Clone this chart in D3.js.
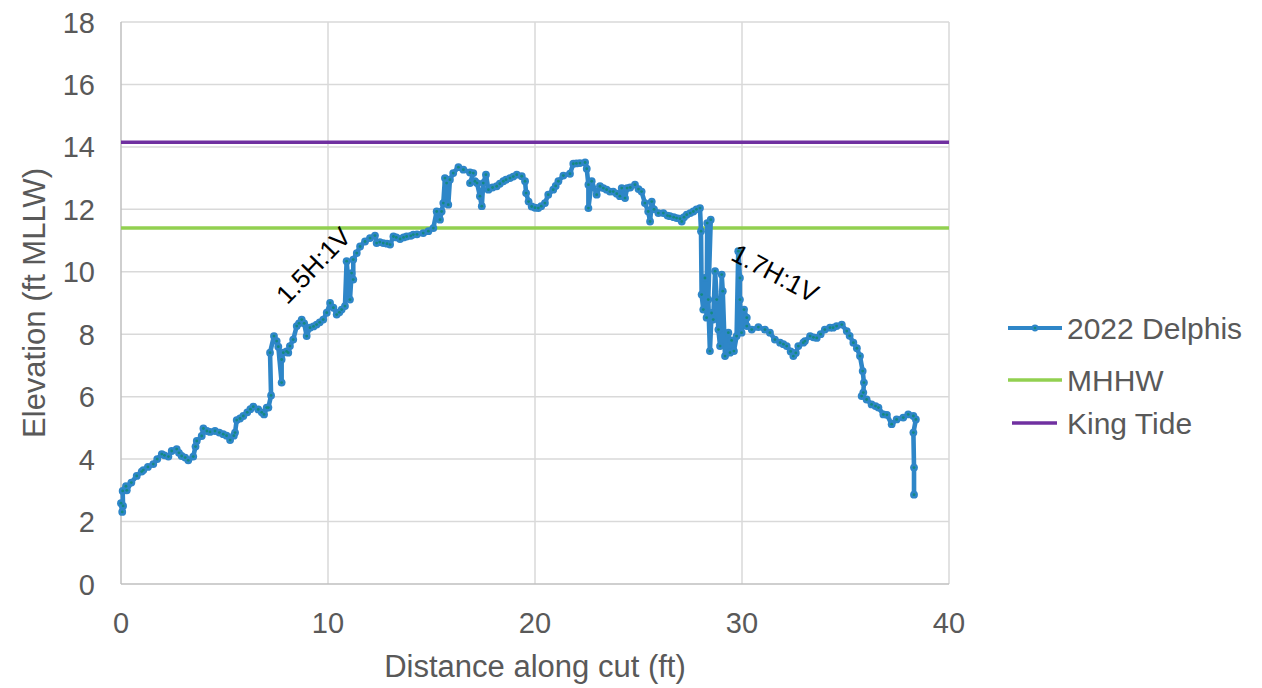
<!DOCTYPE html>
<html><head><meta charset="utf-8">
<script src="https://cdn.jsdelivr.net/npm/d3@7"></script>
<style>body{margin:0;background:#fff;font-family:Arial,"Liberation Sans",sans-serif}</style>
</head><body>
<svg id="c" width="1262" height="688"></svg>
<script>
const distance = [0.0,0.06,0.1,0.08,0.24,0.28,0.5,0.76,1.0,1.08,1.3,1.56,1.75,1.97,2.1,2.29,2.45,2.69,2.8,2.93,3.1,3.25,3.49,3.6,3.66,3.9,3.98,4.15,4.3,4.54,4.75,4.94,5.1,5.27,5.45,5.51,5.59,5.75,5.91,6.1,6.25,6.39,6.63,6.8,6.91,7.04,7.12,7.25,7.2,7.39,7.52,7.6,7.76,7.76,7.84,8.0,8.08,8.16,8.32,8.49,8.6,8.73,8.85,8.97,9.13,9.3,9.45,9.6,9.77,9.94,10.1,10.26,10.42,10.55,10.66,10.82,10.9,11.06,11.14,11.22,11.22,11.39,11.55,11.79,12.03,12.27,12.35,12.5,12.67,12.85,13.0,13.16,13.3,13.48,13.65,13.8,14.0,14.12,14.3,14.6,14.85,15.09,15.25,15.41,15.49,15.57,15.65,15.73,15.81,15.89,16.05,16.3,16.54,16.86,17.02,16.86,17.1,17.2,17.34,17.43,17.5,17.63,17.75,17.95,18.15,18.3,18.47,18.6,18.79,18.95,19.12,19.36,19.52,19.57,19.69,19.84,20.0,20.16,20.3,20.48,20.64,20.88,21.0,21.13,21.37,21.69,21.85,22.0,22.17,22.42,22.5,22.58,22.58,22.74,22.98,23.14,23.3,23.46,23.62,23.78,23.95,24.1,24.19,24.35,24.45,24.6,24.83,25.0,25.15,25.31,25.47,25.56,25.64,25.75,25.96,26.2,26.4,26.52,26.7,26.84,27.0,27.09,27.2,27.33,27.5,27.65,27.8,27.97,28.02,28.05,28.13,28.21,28.29,28.32,28.49,28.37,28.45,28.53,28.61,28.7,28.78,28.86,28.94,29.02,29.07,29.18,29.34,29.42,29.5,29.61,29.74,29.82,29.9,29.9,29.98,30.1,30.23,30.23,30.47,30.79,31.11,31.35,31.59,31.84,32.0,32.16,32.35,32.48,32.6,32.72,32.96,33.04,33.29,33.45,33.61,33.8,34.0,34.25,34.4,34.57,34.82,35.06,35.2,35.38,35.55,35.7,35.83,35.89,35.86,35.78,36.02,36.26,36.45,36.59,36.83,37.0,37.23,37.47,37.79,38.03,38.28,38.4,38.28,38.31,38.31];
const elevation = [2.59,2.31,2.5,2.98,3.13,3.0,3.25,3.46,3.6,3.65,3.75,3.84,4.0,4.16,4.12,4.08,4.26,4.32,4.2,4.1,4.05,3.96,4.08,4.4,4.58,4.74,4.98,4.9,4.87,4.9,4.85,4.8,4.75,4.61,4.75,4.85,5.25,5.3,5.38,5.5,5.6,5.68,5.59,5.5,5.43,5.65,5.65,6.04,7.41,7.94,7.78,7.6,6.45,7.19,7.41,7.45,7.41,7.62,7.83,8.26,8.35,8.47,8.35,7.94,8.21,8.25,8.31,8.38,8.47,8.69,9.0,8.85,8.63,8.7,8.79,8.9,10.34,9.11,9.96,9.75,10.39,10.6,10.81,10.97,11.08,11.16,10.92,10.95,10.92,10.9,10.87,11.13,11.1,11.05,11.1,11.13,11.15,11.19,11.2,11.24,11.3,11.4,11.93,11.67,11.93,12.2,13.0,12.84,12.15,12.95,13.16,13.35,13.27,13.18,13.16,12.84,12.9,12.84,12.42,12.1,12.84,13.11,12.63,12.7,12.74,12.82,12.9,12.95,13.0,13.05,13.11,13.06,12.9,12.52,12.25,12.09,12.05,12.04,12.1,12.2,12.47,12.63,12.75,12.9,13.08,13.14,13.46,13.47,13.48,13.5,13.3,12.79,12.04,12.9,12.47,12.74,12.68,12.63,12.57,12.57,12.5,12.42,12.68,12.36,12.68,12.7,12.79,12.65,12.57,12.2,11.93,11.61,12.25,12.0,11.88,11.88,11.8,11.78,11.75,11.72,11.7,11.61,11.75,11.83,11.88,11.93,12.0,12.04,11.3,9.27,8.79,9.8,8.53,11.56,11.67,9.11,7.46,8.68,8.47,10.02,9.11,8.15,7.62,9.91,9.38,7.3,8.05,7.41,7.8,7.46,7.94,10.66,9.8,9.11,8.05,8.79,8.53,8.26,8.15,8.23,8.15,8.05,7.83,7.73,7.68,7.62,7.45,7.3,7.4,7.62,7.73,7.78,7.94,7.9,7.88,8.0,8.15,8.21,8.21,8.26,8.31,8.1,7.95,7.73,7.55,7.3,6.82,6.45,6.13,6.02,5.91,5.75,5.7,5.65,5.43,5.42,5.12,5.27,5.33,5.43,5.38,5.27,4.85,3.73,2.86];
const mhhw = 11.4;
const kingTide = 14.15;
const xTicks = [0,10,20,30,40];
const yTicks = [0,2,4,6,8,10,12,14,16,18];
const seriesNames = ["2022 Delphis","MHHW","King Tide"];
const seriesColors = ["#2E86C8","#92D050","#7030A0"];
const annotations = [{text:"1.5H:1V", x:9.3, y:10.2, angle:-46},{text:"1.7H:1V", x:31.6, y:9.95, angle:28}];

const svg = d3.select("#c");
const L=121, T=22, R=949, B=584;
const x = d3.scaleLinear().domain([0,40]).range([L,R]);
const y = d3.scaleLinear().domain([0,18]).range([B,T]);
const txt = "#595959";

svg.append("g").selectAll("line").data(yTicks.filter(d=>d>0)).join("line")
  .attr("x1",L).attr("x2",R).attr("y1",d=>y(d)).attr("y2",d=>y(d))
  .attr("stroke","#d9d9d9").attr("stroke-width",1.5);
svg.append("g").selectAll("line").data(xTicks.filter(d=>d>0)).join("line")
  .attr("y1",T).attr("y2",B).attr("x1",d=>x(d)).attr("x2",d=>x(d))
  .attr("stroke","#d9d9d9").attr("stroke-width",1.5);
svg.append("line").attr("x1",L).attr("x2",L).attr("y1",T).attr("y2",B).attr("stroke","#bfbfbf").attr("stroke-width",1.5);
svg.append("line").attr("x1",L).attr("x2",R).attr("y1",B).attr("y2",B).attr("stroke","#bfbfbf").attr("stroke-width",1.5);

svg.append("g").selectAll("text").data(yTicks).join("text")
  .attr("x",95).attr("y",d=>y(d)+10.5).attr("text-anchor","end")
  .attr("font-size",29).attr("fill",txt).text(d=>d);
svg.append("g").selectAll("text").data(xTicks).join("text")
  .attr("x",d=>x(d)).attr("y",633).attr("text-anchor","middle")
  .attr("font-size",29).attr("fill",txt).text(d=>d);

svg.append("text").attr("x",(L+R)/2).attr("y",677).attr("text-anchor","middle")
  .attr("font-size",31).attr("fill",txt).text("Distance along cut (ft)");
svg.append("text").attr("transform",`translate(45,${(T+B)/2}) rotate(-90)`).attr("text-anchor","middle")
  .attr("font-size",31).attr("fill",txt).text("Elevation (ft MLLW)");

svg.append("line").attr("x1",L).attr("x2",R).attr("y1",y(mhhw)).attr("y2",y(mhhw))
  .attr("stroke",seriesColors[1]).attr("stroke-width",3.5);
svg.append("line").attr("x1",L).attr("x2",R).attr("y1",y(kingTide)).attr("y2",y(kingTide))
  .attr("stroke",seriesColors[2]).attr("stroke-width",3.5);

const pts = distance.map((d,i)=>[d,elevation[i]]);
svg.append("path").datum(pts).attr("fill","none").attr("stroke",seriesColors[0])
  .attr("stroke-width",4.6).attr("stroke-linejoin","round")
  .attr("d",d3.line().x(d=>x(d[0])).y(d=>y(d[1])));
const mk = svg.append("g");
mk.selectAll("circle.o").data(pts).join("circle").attr("class","o")
  .attr("cx",d=>x(d[0])).attr("cy",d=>y(d[1])).attr("r",3.9).attr("fill",seriesColors[0]);
mk.selectAll("circle.i").data(pts).join("circle").attr("class","i")
  .attr("cx",d=>x(d[0])).attr("cy",d=>y(d[1])).attr("r",1.4).attr("fill","#148a80");

svg.append("g").selectAll("text").data(annotations).join("text")
  .attr("transform",d=>`translate(${x(d.x)},${y(d.y)}) rotate(${d.angle})`)
  .attr("text-anchor","middle").attr("dominant-baseline","central")
  .attr("font-size",26).attr("fill","#000").text(d=>d.text);

const lg = svg.append("g");
const ly = [328,380,423];
const lx1 = [1008,1008,1012], lx2 = [1062,1062,1057];
seriesNames.forEach((n,i)=>{
  lg.append("line").attr("x1",lx1[i]).attr("x2",lx2[i]).attr("y1",ly[i]).attr("y2",ly[i])
    .attr("stroke",seriesColors[i]).attr("stroke-width",i===0?4:3.5);
  if(i===0){
    lg.append("circle").attr("cx",(lx1[i]+lx2[i])/2).attr("cy",ly[i]).attr("r",3.4).attr("fill",seriesColors[0]);
    lg.append("circle").attr("cx",(lx1[i]+lx2[i])/2).attr("cy",ly[i]).attr("r",1.3).attr("fill","#148a80");
  }
  lg.append("text").attr("x",1067).attr("y",ly[i]+11).attr("font-size",30).attr("fill",txt).text(n);
});
</script>
</body></html>
